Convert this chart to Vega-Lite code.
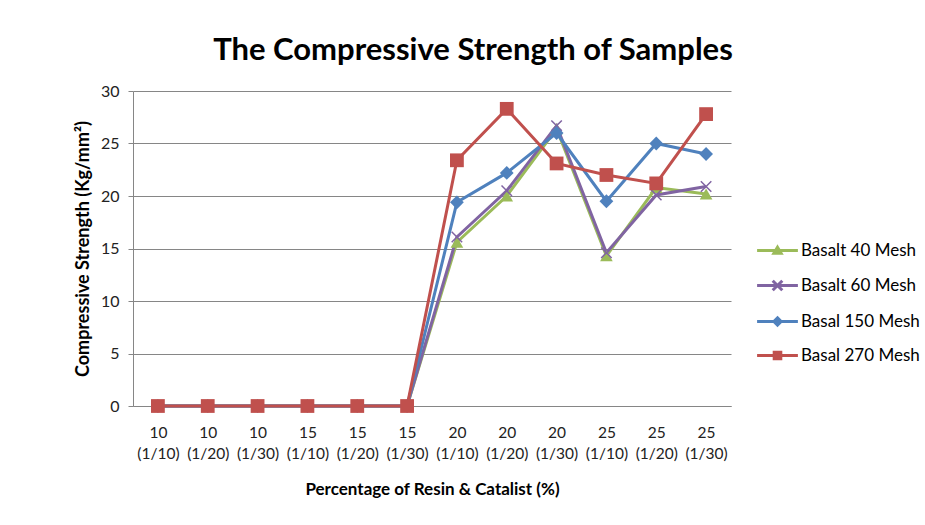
{
  "$schema": "https://vega.github.io/schema/vega-lite/v6.json",
  "width": 598,
  "height": 315,
  "autosize": {"type": "none"},
  "padding": {"left": 133, "top": 91, "right": 194, "bottom": 119},
  "background": "white",
  "config": {
    "font": "Lato",
    "view": {"stroke": null},
    "legend": {"symbolSize": 144, "symbolStrokeWidth": 3, "symbolOpacity": 1, "labelFontSize": 17, "labelColor": "#000000", "labelOffset": 15, "rowPadding": 14, "labelLimit": 200}
  },
  "title": {"text": "The Compressive Strength of Samples", "fontSize": 31, "fontWeight": "bold", "color": "#000000", "anchor": "middle", "dx": 41, "offset": 16, "font": "Lato"},
  "data": {"values": [
    {"cat": "10 (1/10)", "series": "Basalt 40 Mesh", "value": 0},
    {"cat": "10 (1/20)", "series": "Basalt 40 Mesh", "value": 0},
    {"cat": "10 (1/30)", "series": "Basalt 40 Mesh", "value": 0},
    {"cat": "15 (1/10)", "series": "Basalt 40 Mesh", "value": 0},
    {"cat": "15 (1/20)", "series": "Basalt 40 Mesh", "value": 0},
    {"cat": "15 (1/30)", "series": "Basalt 40 Mesh", "value": 0},
    {"cat": "20 (1/10)", "series": "Basalt 40 Mesh", "value": 15.6},
    {"cat": "20 (1/20)", "series": "Basalt 40 Mesh", "value": 20.0},
    {"cat": "20 (1/30)", "series": "Basalt 40 Mesh", "value": 26.4},
    {"cat": "25 (1/10)", "series": "Basalt 40 Mesh", "value": 14.3},
    {"cat": "25 (1/20)", "series": "Basalt 40 Mesh", "value": 20.8},
    {"cat": "25 (1/30)", "series": "Basalt 40 Mesh", "value": 20.2},
    {"cat": "10 (1/10)", "series": "Basalt 60 Mesh", "value": 0},
    {"cat": "10 (1/20)", "series": "Basalt 60 Mesh", "value": 0},
    {"cat": "10 (1/30)", "series": "Basalt 60 Mesh", "value": 0},
    {"cat": "15 (1/10)", "series": "Basalt 60 Mesh", "value": 0},
    {"cat": "15 (1/20)", "series": "Basalt 60 Mesh", "value": 0},
    {"cat": "15 (1/30)", "series": "Basalt 60 Mesh", "value": 0},
    {"cat": "20 (1/10)", "series": "Basalt 60 Mesh", "value": 16.1},
    {"cat": "20 (1/20)", "series": "Basalt 60 Mesh", "value": 20.5},
    {"cat": "20 (1/30)", "series": "Basalt 60 Mesh", "value": 26.7},
    {"cat": "25 (1/10)", "series": "Basalt 60 Mesh", "value": 14.6},
    {"cat": "25 (1/20)", "series": "Basalt 60 Mesh", "value": 20.1},
    {"cat": "25 (1/30)", "series": "Basalt 60 Mesh", "value": 20.9},
    {"cat": "10 (1/10)", "series": "Basal 150 Mesh", "value": 0},
    {"cat": "10 (1/20)", "series": "Basal 150 Mesh", "value": 0},
    {"cat": "10 (1/30)", "series": "Basal 150 Mesh", "value": 0},
    {"cat": "15 (1/10)", "series": "Basal 150 Mesh", "value": 0},
    {"cat": "15 (1/20)", "series": "Basal 150 Mesh", "value": 0},
    {"cat": "15 (1/30)", "series": "Basal 150 Mesh", "value": 0},
    {"cat": "20 (1/10)", "series": "Basal 150 Mesh", "value": 19.4},
    {"cat": "20 (1/20)", "series": "Basal 150 Mesh", "value": 22.2},
    {"cat": "20 (1/30)", "series": "Basal 150 Mesh", "value": 26.0},
    {"cat": "25 (1/10)", "series": "Basal 150 Mesh", "value": 19.5},
    {"cat": "25 (1/20)", "series": "Basal 150 Mesh", "value": 25.0},
    {"cat": "25 (1/30)", "series": "Basal 150 Mesh", "value": 24.0},
    {"cat": "10 (1/10)", "series": "Basal 270 Mesh", "value": 0},
    {"cat": "10 (1/20)", "series": "Basal 270 Mesh", "value": 0},
    {"cat": "10 (1/30)", "series": "Basal 270 Mesh", "value": 0},
    {"cat": "15 (1/10)", "series": "Basal 270 Mesh", "value": 0},
    {"cat": "15 (1/20)", "series": "Basal 270 Mesh", "value": 0},
    {"cat": "15 (1/30)", "series": "Basal 270 Mesh", "value": 0},
    {"cat": "20 (1/10)", "series": "Basal 270 Mesh", "value": 23.4},
    {"cat": "20 (1/20)", "series": "Basal 270 Mesh", "value": 28.3},
    {"cat": "20 (1/30)", "series": "Basal 270 Mesh", "value": 23.1},
    {"cat": "25 (1/10)", "series": "Basal 270 Mesh", "value": 22.0},
    {"cat": "25 (1/20)", "series": "Basal 270 Mesh", "value": 21.2},
    {"cat": "25 (1/30)", "series": "Basal 270 Mesh", "value": 27.8}
  ]},
  "encoding": {
    "x": {
      "field": "cat", "type": "ordinal", "sort": null,
      "scale": {"padding": 0.5},
      "axis": {
        "title": "Percentage of Resin & Catalist  (%)",
        "titleFontSize": 17, "titleFontWeight": "bold", "titleColor": "#000000", "titlePadding": 20,
        "labelExpr": "split(datum.value, ' ')",
        "labelAngle": 0, "labelFontSize": 15.5, "labelLineHeight": 21, "labelColor": "#222222",
        "labelPadding": 19, "ticks": false,
        "domainColor": "#868686", "domainWidth": 1, "grid": false
      }
    },
    "y": {
      "field": "value", "type": "quantitative",
      "scale": {"domain": [0, 30]},
      "axis": {
        "title": "Compressive Strength (Kg/mm²)",
        "titleFontSize": 18, "titleFontWeight": "bold", "titleColor": "#000000", "titlePadding": 8,
        "values": [0, 5, 10, 15, 20, 25, 30],
        "labelFontSize": 16, "labelColor": "#222222", "labelPadding": 9,
        "tickSize": 5, "tickColor": "#868686",
        "domainColor": "#868686", "gridColor": "#868686", "gridWidth": 1
      }
    }
  },
  "layer": [
    {
      "mark": {"type": "point", "filled": false, "size": 0, "strokeWidth": 3},
      "encoding": {
        "color": {
          "field": "series", "type": "nominal",
          "scale": {"domain": ["Basalt 40 Mesh", "Basalt 60 Mesh", "Basal 150 Mesh", "Basal 270 Mesh"], "range": ["#9BBB59", "#8064A2", "#4F81BD", "#C0504D"]},
          "legend": {"title": null, "orient": "none", "legendX": 636, "legendY": 151}
        },
        "shape": {
          "field": "series", "type": "nominal",
          "scale": {"domain": ["Basalt 40 Mesh", "Basalt 60 Mesh", "Basal 150 Mesh", "Basal 270 Mesh"], "range": [
            "M-3.4,0H3.4M0,-0.55L0.6,0.45H-0.6Z",
            "M-3.4,0H3.4M-0.8,-0.8L0.8,0.8M-0.8,0.8L0.8,-0.8",
            "M-3.4,0H3.4M0,-0.6L0.6,0L0,0.6L-0.6,0Z",
            "M-3.4,0H3.4M-0.55,-0.55H0.55V0.55H-0.55Z"
          ]},
          "legend": {"title": null, "orient": "none", "legendX": 636, "legendY": 151}
        }
      }
    },
    {
      "mark": {"type": "line", "strokeWidth": 3},
      "encoding": {"color": {"field": "series", "type": "nominal", "legend": null}}
    },
    {
      "transform": [{"filter": "datum.series == 'Basalt 40 Mesh'"}],
      "mark": {"type": "point", "filled": true, "shape": "triangle-up", "size": 160, "opacity": 1},
      "encoding": {"color": {"field": "series", "type": "nominal", "legend": null}}
    },
    {
      "transform": [{"filter": "datum.series == 'Basalt 60 Mesh'"}],
      "mark": {"type": "point", "filled": false, "shape": "M-1,-1L1,1M-1,1L1,-1", "size": 110, "strokeWidth": 1.5, "opacity": 1},
      "encoding": {"color": {"field": "series", "type": "nominal", "legend": null}}
    },
    {
      "transform": [{"filter": "datum.series == 'Basal 150 Mesh'"}],
      "mark": {"type": "point", "filled": true, "shape": "diamond", "size": 190, "opacity": 1},
      "encoding": {"color": {"field": "series", "type": "nominal", "legend": null}}
    },
    {
      "transform": [{"filter": "datum.series == 'Basal 270 Mesh'"}],
      "mark": {"type": "point", "filled": true, "shape": "square", "size": 190, "opacity": 1},
      "encoding": {"color": {"field": "series", "type": "nominal", "legend": null}}
    }
  ]
}
